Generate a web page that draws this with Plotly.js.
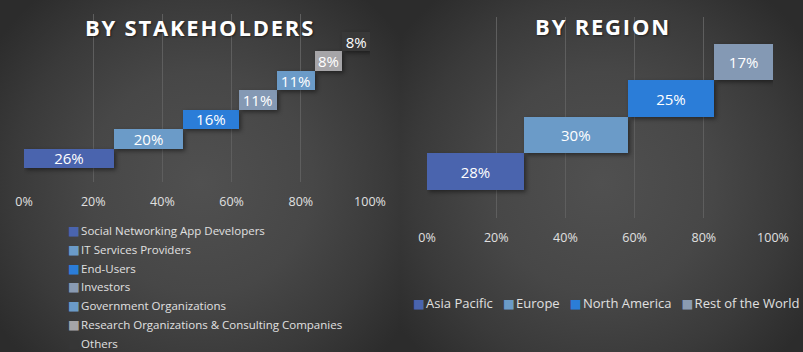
<!DOCTYPE html>
<html>
<head>
<meta charset="utf-8">
<script src="https://cdn.plot.ly/plotly-3.0.1.min.js"></script>
<style>
  html, body { margin: 0; padding: 0; background: #2e2e2e; }
  #wrap { position: relative; width: 803px; height: 352px; overflow: hidden; }
  #left, #right { position: absolute; top: 0; height: 352px; }
  #left { left: 0; width: 402px;
    background: radial-gradient(ellipse 62% 70% at 50% 52%, #505050 0%, #474747 45%, #3a3a3a 75%, #2c2c2c 100%); }
  #right { left: 400px; width: 403px;
    background: radial-gradient(ellipse 62% 70% at 50% 52%, #505050 0%, #474747 45%, #3a3a3a 75%, #2c2c2c 100%); }
  .barlayer .point path { filter: drop-shadow(2px 2px 2px rgba(0,0,0,0.45)); }
  .gtitle { letter-spacing: 1.8px; text-shadow: 1px 1px 2px rgba(0,0,0,0.5); }
</style>
</head>
<body>
<div id="wrap">
  <div id="left"></div>
  <div id="right"></div>
</div>
<script>
// ---- data ----
const stakeCategories = ['Social Networking App Developers', 'IT Services Providers', 'End-Users', 'Investors',
  'Government Organizations', 'Research Organizations & Consulting Companies', 'Others'];
const stakeValues = [26, 20, 16, 11, 11, 8, 8];
const regionCategories = ['Asia Pacific', 'Europe', 'North America', 'Rest of the World'];
const regionValues = [28, 30, 25, 17];
const tickValues = [0, 20, 40, 60, 80, 100];

// ---- styles ----
const stakeColors = ['#4a64ae', '#6b9bc8', '#2b7dd8', '#7f99bb', '#6b9bc8', '#a6a5a8', '#383838'];
const stakeLegendColors = ['#4a64ae', '#6b9bc8', '#2b7dd8', '#8a9bb2', '#6b9bc8', '#a6a5a8', '#363636'];
const patternFill = {shape: '.', bgcolor: '#7296c2', fgcolor: '#9c9ea2', size: 2, solidity: 0.5};
const stakePatterns = [null, null, null, patternFill, null, null, null];
const regionColors = ['#4a64ae', '#6b9bc8', '#2b7dd8', '#7f99bb'];
const regionLegendColors = ['#4a64ae', '#6b9bc8', '#2b7dd8', '#8a9bb2'];
const regionPatterns = [null, null, null, patternFill];

const FONT = '"Open Sans", "Noto Sans", sans-serif';
const NBSP = '\u00a0';

function buildTraces(cats, vals, colors, patterns) {
  const traces = [];
  let cum = 0;
  cats.forEach((c, i) => {
    const marker = {color: colors[i], line: {width: 0}};
    if (patterns[i]) marker.pattern = patterns[i];
    traces.push({
      type: 'bar', orientation: 'h', name: c,
      y: [i], x: [vals[i]], base: [cum], width: 1,
      marker: marker,
      text: [vals[i] + '%'], textposition: 'inside', insidetextanchor: 'middle',
      constraintext: 'none',
      textfont: {color: '#ffffff', size: 15, family: FONT},
      hoverinfo: 'skip', cliponaxis: false, showlegend: false
    });
    cum += vals[i];
  });
  return traces;
}

function swatch(color) {
  return '<span style="color:' + color + ';font-size:12.5px;font-family:DejaVu Sans">\u25A0</span>' +
         '<span style="font-size:4px;font-family:DejaVu Sans">' + NBSP + '</span>';
}

function xaxisCfg() {
  return {
    range: [0, 100], tickvals: tickValues, ticktext: tickValues.map(v => v + '%'),
    showgrid: true, gridcolor: '#5e5e5e', gridwidth: 1, zeroline: false, showline: false,
    ticks: '', ticklabelstandoff: 10,
    tickfont: {color: '#e0e0e0', size: 12.5, family: FONT}, fixedrange: true
  };
}

// ---- left: by stakeholders ----
const L = {w: 402, h: 352, l: 24, r: 32, t: 14, b: 170};
const lpw = L.w - L.l - L.r, lph = L.h - L.t - L.b;
const leftLegend = stakeCategories.map((c, i) => ({
  text: swatch(stakeLegendColors[i]) + c,
  xref: 'paper', yref: 'paper',
  x: (66 - L.l) / lpw, y: 1 - (230.5 + 18.8 * i - L.t) / lph,
  xanchor: 'left', yanchor: 'middle', showarrow: false,
  font: {family: FONT, size: 11.5, color: '#e0e0e0'}
}));
const leftLayout = {
  width: L.w, height: L.h,
  paper_bgcolor: 'rgba(0,0,0,0)', plot_bgcolor: 'rgba(0,0,0,0)',
  margin: {l: L.l, r: L.r, t: L.t, b: L.b, autoexpand: false},
  barmode: 'overlay', bargap: 0,
  title: {text: 'BY STAKEHOLDERS', x: 0.4975, xref: 'container', xanchor: 'center',
          y: 1 - 28 / 352, yref: 'container', yanchor: 'middle',
          font: {family: FONT, size: 22, color: '#ffffff', weight: 'bold'}},
  xaxis: xaxisCfg(),
  yaxis: {range: [-1.22, 7.43], showgrid: false, zeroline: false, showticklabels: false, showline: false, ticks: '', fixedrange: true},
  showlegend: false,
  annotations: leftLegend,
  font: {family: FONT}
};
Plotly.newPlot('left', buildTraces(stakeCategories, stakeValues, stakeColors, stakePatterns), leftLayout,
  {displayModeBar: false, staticPlot: true});

// ---- right: by region ----
const R = {w: 403, h: 352, l: 27, r: 30, t: 17, b: 134};
const rpw = R.w - R.l - R.r, rph = R.h - R.t - R.b;
const rightLegendText = regionCategories.map((c, i) => swatch(regionLegendColors[i]) + c)
  .join(NBSP + NBSP + NBSP);
const rightLayout = {
  width: R.w, height: R.h,
  paper_bgcolor: 'rgba(0,0,0,0)', plot_bgcolor: 'rgba(0,0,0,0)',
  margin: {l: R.l, r: R.r, t: R.t, b: R.b, autoexpand: false},
  barmode: 'overlay', bargap: 0,
  title: {text: 'BY REGION', x: 203 / 403, xref: 'container', xanchor: 'center',
          y: 1 - 27 / 352, yref: 'container', yanchor: 'middle',
          font: {family: FONT, size: 22, color: '#ffffff', weight: 'bold'}},
  xaxis: xaxisCfg(),
  yaxis: {range: [-1.27, 4.24], showgrid: false, zeroline: false, showticklabels: false, showline: false, ticks: '', fixedrange: true},
  showlegend: false,
  annotations: [{
    text: rightLegendText, xref: 'paper', yref: 'paper',
    x: (11 - R.l) / rpw, y: 1 - (303 - R.t) / rph,
    xanchor: 'left', yanchor: 'middle', showarrow: false,
    font: {family: FONT, size: 13, color: '#e0e0e0'}
  }],
  font: {family: FONT}
};
Plotly.newPlot('right', buildTraces(regionCategories, regionValues, regionColors, regionPatterns), rightLayout,
  {displayModeBar: false, staticPlot: true});
</script>
</body>
</html>
